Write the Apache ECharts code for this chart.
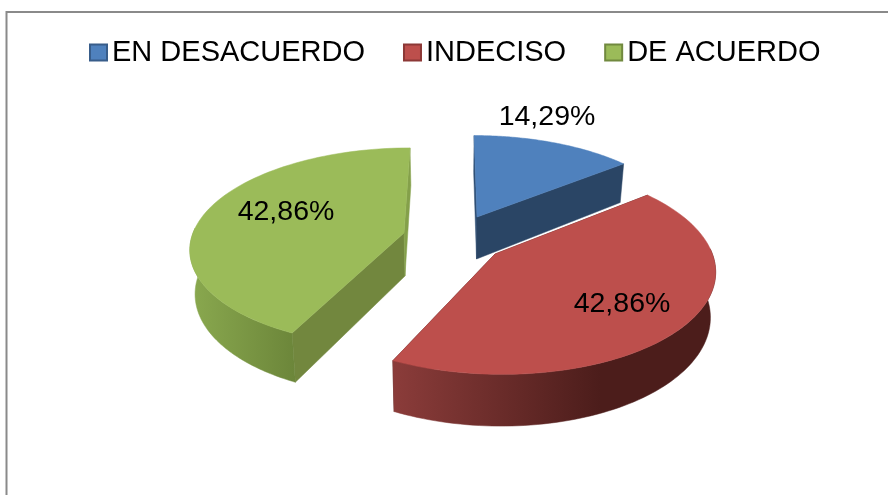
<!DOCTYPE html>
<html><head><meta charset="utf-8">
<style>html,body{margin:0;padding:0;background:#fff}#c{width:888px;height:495px}</style>
<script src="https://cdn.jsdelivr.net/npm/echarts@6/dist/echarts.min.js"></script>
</head><body><div id="c"></div>
<script>
const categories = ['EN DESACUERDO', 'INDECISO', 'DE ACUERDO'];
const percentages = [14.29, 42.86, 42.86];
const topColors = ['#4f81bd', '#bd4f4c', '#9bbb59'];
const edgeColors = ['#385d8a', '#8c3836', '#71893f'];
// exploded screen centre of each slice
const centres = [[477, 217], [495, 254], [404, 233]];
const labelPos = [[547, 117], [622, 304], [286, 212]];
const radialWall = ['#2a4565', '#4d1e1c', '#72873e'];
const backWall = ['#2f4f75', '#4d1e1c', '#84a04a'];
const arcWall = [
  null,
  { x: 393, x2: 600, stops: ['#8b3c3a', '#4c1d1b'] },
  { x: 189, x2: 295, stops: ['#8aa94f', '#6c863a'] }
];

// perspective of the pie's plane
const Vx = 453, Vy = -460, H = 693, p = 0.14, A = 211, DEPTH = 43, BOTTOM_SCALE = 0.98;
const total = percentages.reduce((a, b) => a + b, 0);
let acc = 0;
const spans = percentages.map(v => { const a = acc; acc += v; return [a / total * Math.PI * 2, acc / total * Math.PI * 2]; });

function projector(centre) {
  const s0 = (centre[1] - Vy) / H;
  const Y0 = (1 - 1 / s0) / p;
  const X0 = (centre[0] - Vx) / s0 / A;
  return (t, drop, r) => {
    const R = r === undefined ? 1 : r;
    const X = X0 + R * Math.sin(t), Y = Y0 - R * Math.cos(t);
    const s = 1 / (1 - p * Y);
    return [Vx + A * X * s * (drop ? BOTTOM_SCALE : 1), Vy + H * s + (drop ? DEPTH * s : 0)];
  };
}
function arc(pr, a, b, drop) {
  const n = 80, pts = [];
  for (let i = 0; i <= n; i++) pts.push(pr(a + (b - a) * i / n, drop));
  return pts;
}
function poly(points, fill, stroke) {
  return { type: 'polygon', shape: { points }, style: { fill, stroke: stroke || fill, lineWidth: 0.5 } };
}
function render(i) {
  return function (params, api) {
    const [a, b] = spans[i], pr = projector(centres[i]);
    const c = pr(0, false, 0), cb = pr(0, true, 0);
    const kids = [];
    // radial walls
    kids.push(poly([c, pr(a, false), pr(a, true), cb], i === 2 ? radialWall[i] : backWall[i]));
    kids.push(poly([c, pr(b, false), pr(b, true), cb], i === 2 ? backWall[i] : radialWall[i]));
    // outer wall: only the part facing the viewer
    if (arcWall[i]) {
      const lo = Math.max(a, Math.PI / 2 - 0.05), hi = Math.min(b, Math.PI * 1.5 + 0.05);
      const w = arcWall[i];
      kids.push(poly(arc(pr, lo, hi, false).concat(arc(pr, lo, hi, true).reverse()), {
        type: 'linear', x: w.x, y: 0, x2: w.x2, y2: 0, global: true,
        colorStops: [{ offset: 0, color: w.stops[0] }, { offset: 1, color: w.stops[1] }]
      }));
    }
    // top face
    kids.push(poly([c].concat(arc(pr, a, b, false)), topColors[i], topColors[i]));
    kids.push({
      type: 'text', z2: 10,
      style: {
        x: labelPos[i][0], y: labelPos[i][1], text: api.value(0).toFixed(2).replace('.', ',') + '%',
        fill: '#000', font: '28.5px "Liberation Sans", Arial, sans-serif', align: 'center', verticalAlign: 'middle'
      }
    });
    return { type: 'group', children: kids };
  };
}

const order = [0, 2, 1]; // back to front
const chart = echarts.init(document.getElementById('c'), null, { renderer: 'canvas' });
chart.setOption({
  animation: false,
  backgroundColor: '#fff',
  legend: {
    data: categories.map(name => ({ name, icon: 'rect' })), left: 84, top: 33, itemWidth: 17, itemHeight: 16, itemGap: 38,
    textStyle: { color: '#000', fontSize: 29, fontFamily: '"Liberation Sans", Arial, sans-serif' },
    selectedMode: false
  },
  graphic: [{
    type: 'polyline', silent: true, z: -1,
    shape: { points: [[6.5, 500], [6.5, 12], [890, 12]] },
    style: { fill: 'none', stroke: '#8a8a8a', lineWidth: 2 }
  }],
  series: order.map(i => ({
    type: 'custom', name: categories[i], coordinateSystem: 'none', silent: true,
    itemStyle: { color: topColors[i], borderColor: edgeColors[i], borderWidth: 1.5 },
    renderItem: render(i), data: [[percentages[i]]]
  }))
});
</script></body></html>
